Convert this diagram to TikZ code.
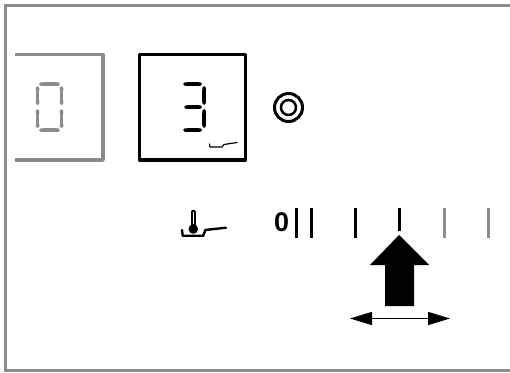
\documentclass[tikz,border=0pt]{standalone}
\usepackage{fontspec}
\setmainfont{Liberation Sans}
\usetikzlibrary{arrows.meta}
\definecolor{panelgray}{gray}{0.55}
\begin{document}
\begin{tikzpicture} [x=1pt, y=-1pt,
        frame line/.style={panelgray, line width=3pt},
        display/.style={line width=3.5pt, line join=round},
        seg/.style={line width=3.5pt, {Triangle Cap}-{Triangle Cap}},
        tick/.style={line width=3pt},
        pan/.style={line cap=round, line join=round}]
    \useasboundingbox (0,0) rectangle (510,372);
    % outer frame
    \draw[frame line] (510,5.5) -- (5,5.5) -- (5,370.5) -- (510,370.5);
    % left zone
    \draw[display, panelgray] (15,54.5) -- (103,54.5) -- (103,160) -- (15,160);
    \foreach \xa/\ya/\xb/\yb in {39/84/60/84, 39/130/60/130, 37.5/86/37.5/105, 37.5/109/37.5/128, 61.5/86/61.5/105, 61.5/109/61.5/128}
        \draw[seg, panelgray] (\xa,\ya) -- (\xb,\yb);
    % active zone
    \draw[display] (139.5,54.5) rectangle (245.5,160);
    \foreach \xa/\ya/\xb/\yb in {183/84/202/84, 184/107/202/107, 183/130/202/130, 204/86/204/105, 204/109/204/128}
        \draw[seg] (\xa,\ya) -- (\xb,\yb);
    \draw[pan, line width=1.2pt] (209.5,144) -- (210,147) -- (222,147) -- (224,144.5) -- (237,142.5);
    % ring symbol
    \node (ring) [circle, draw, line width=3pt, minimum size=28pt, inner sep=0pt] at (288.5,107.5) {};
    \node (ringin) [circle, draw, line width=2.5pt, minimum size=15pt, inner sep=0pt] at (ring) {};
    % pan with thermometer
    \draw[line width=4.5pt, line cap=round] (193.3,212) -- (193.3,228);
    \draw[white, line width=1.2pt] (193.3,212) -- (193.3,224);
    \fill (193.3,229) circle (4.8pt);
    \draw[pan, line width=2.4pt] (182,230) -- (182.7,235.7) -- (203.3,235.7) -- (205.3,230) -- (226,227.7);
    % scale
    \node (zero) [font=\bfseries, inner sep=0pt] at (281.7,222.7) {\fontsize{27}{27}\selectfont 0};
    \foreach \x/\col/\yend in {296/black/238, 311/black/238, 355/black/238, 399/black/231, 444/panelgray/238, 488/panelgray/238}
        \draw[tick, \col] (\x,208) -- (\x,\yend);
    % pointer
    \fill (399,235) -- (429,265) -- (414,265) -- (414,306) -- (385,306) -- (385,265) -- (370,265) -- cycle;
    \coordinate (left) at (350,318.5);
    \coordinate (right) at (450,318.5);
    \draw[{Triangle[length=22pt,width=13pt]}-{Triangle[length=22pt,width=13pt]}, line width=1.5pt] (left) -- (right);
\end{tikzpicture}
\end{document}
